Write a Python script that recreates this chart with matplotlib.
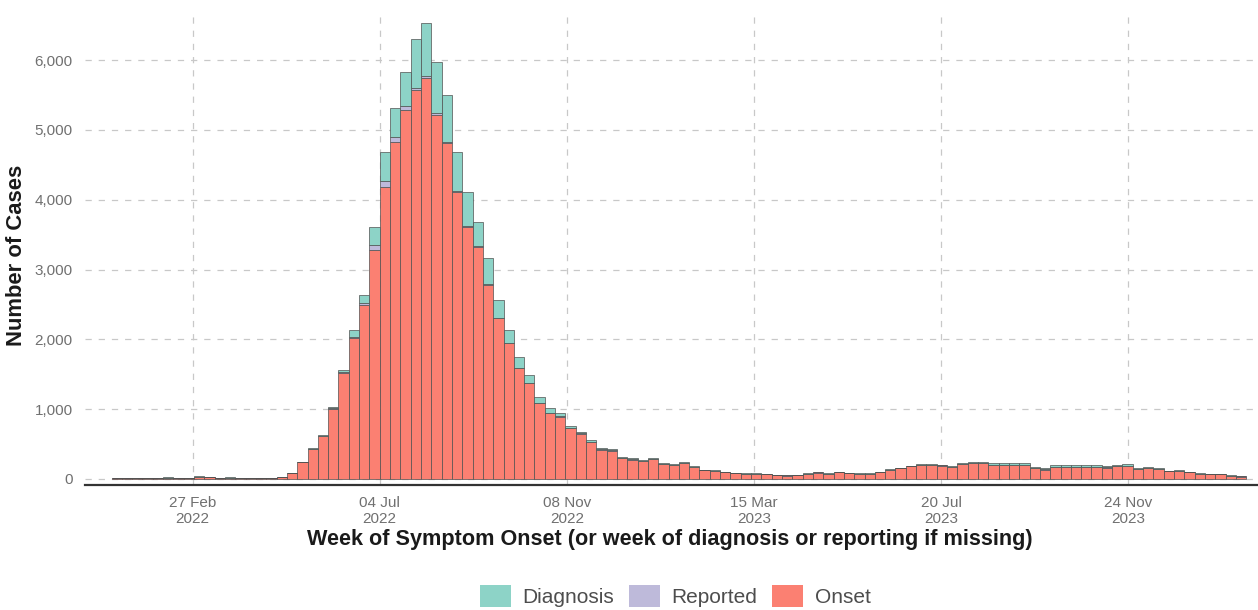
import numpy as np
import pandas as pd
import matplotlib
matplotlib.use("Agg")
import matplotlib.pyplot as plt
from matplotlib.patches import Patch

plt.rcParams['font.family'] = ['Liberation Sans', 'DejaVu Sans']
plt.rcParams['lines.scale_dashes'] = False

# weekly counts, weeks starting Monday 03 Jan 2022
first_week = "2022-01-03"

onset = [8, 12, 10, 15, 12, 18, 10, 14, 30, 22, 12, 18, 15, 10, 12, 15, 25,
         85, 240, 430, 610, 1000, 1520, 2015, 2493, 3281, 4188, 4833, 5287,
         5573, 5740, 5215, 4809, 4117, 3615, 3329, 2779, 2302, 1944, 1585,
         1370, 1084, 941, 893, 730,
         648, 532, 420, 407, 300, 276, 255, 281, 215, 200, 228, 167,
         127, 117, 98, 85, 76, 74, 72, 55, 50, 53, 74, 93, 76, 95, 84, 74, 76, 98,
         132, 151, 180, 199, 203, 193, 169, 211, 229, 233,
         201, 199, 201, 198, 157, 136, 176, 174, 173, 174, 176, 164, 180, 188,
         139, 153, 141, 110, 119, 97, 74, 65, 65, 47, 35]

reported = [0] * 17 + \
    [2, 3, 5, 8, 10, 15, 20, 30, 70, 80, 70, 50, 35, 30, 25, 20,
     15, 12, 10, 10, 8, 8, 6, 6, 5, 5, 5, 5] + \
    [5] * 12 + [2] * 53

diagnosis = [2, 3, 2, 4, 3, 4, 2, 3, 6, 4, 3, 4, 3, 2, 3, 3, 5,
             3, 7, 10, 12, 26, 26, 100, 113, 264, 422, 412, 498, 691, 758,
             739, 673, 558, 490, 348, 372, 254, 183, 161, 114, 90, 74, 43, 25,
             25, 22, 20, 18, 15, 15, 12, 14, 10, 10, 12, 8,
             6, 6, 5, 5, 4, 4, 4, 3, 3, 3, 4, 5, 4, 5, 4, 4, 4, 5,
             6, 7, 8, 9, 10, 10, 9, 12, 14, 15,
             22, 24, 22, 25, 18, 15, 22, 24, 25, 24, 22, 20, 18, 20,
             12, 12, 10, 8, 8, 6, 5, 4, 4, 3, 3]

tick_dates = ["2022-02-27", "2022-07-04", "2022-11-08",
              "2023-03-15", "2023-07-20", "2023-11-24"]
tick_labels = ["27 Feb\n2022", "04 Jul\n2022", "08 Nov\n2022",
               "15 Mar\n2023", "20 Jul\n2023", "24 Nov\n2023"]

colors = {"Diagnosis": "#8DD3C7", "Reported": "#BEBADA", "Onset": "#FB8072"}

weeks = pd.date_range(first_week, periods=len(onset), freq="7D")
onset = np.array(onset)
reported = np.array(reported)
diagnosis = np.array(diagnosis)

fig = plt.figure(figsize=(12.58, 6.10), dpi=100)
ax = fig.add_axes([85 / 1258, 1 - 485 / 610, 1 - 85 / 1258, (485 - 12) / 610])

edge = dict(edgecolor="#505050", linewidth=0.5, width=7, align="edge", zorder=3)
ax.bar(weeks, onset, color=colors["Onset"], **edge)
ax.bar(weeks, reported, bottom=onset, color=colors["Reported"], **edge)
ax.bar(weeks, diagnosis, bottom=onset + reported, color=colors["Diagnosis"], **edge)

ax.set_xlim(pd.Timestamp("2021-12-16"), pd.Timestamp("2024-02-20"))
ax.set_ylim(-86, 6690)

ax.set_xticks(pd.to_datetime(tick_dates))
ax.set_xticklabels(tick_labels, linespacing=1.15)
ax.set_yticks(range(0, 7000, 1000))
ax.set_yticklabels([f"{v:,}" for v in range(0, 7000, 1000)])

ax.tick_params(axis="both", length=0, labelsize=11, labelcolor="#707070")
ax.tick_params(axis="x", pad=8)
ax.tick_params(axis="y", pad=9)

ax.grid(True, color="#c8c8c8", linewidth=0.9, linestyle=(0, (4.5, 5)), zorder=0)
for s in ["top", "right", "left"]:
    ax.spines[s].set_visible(False)
ax.spines["bottom"].set_color("#333333")
ax.spines["bottom"].set_linewidth(1.6)
ax.spines["bottom"].set_zorder(4)

fig.text(17 / 1258, 1 - 255 / 610, "Number of Cases", rotation=90,
         ha="center", va="center", fontsize=15.8, fontweight="bold", color="#1a1a1a")
fig.text(670 / 1258, 1 - 540 / 610,
         "Week of Symptom Onset (or week of diagnosis or reporting if missing)",
         ha="center", va="center", fontsize=15.6, fontweight="bold", color="#1a1a1a")

handles = [Patch(facecolor=colors[k], edgecolor="none") for k in ["Diagnosis", "Reported", "Onset"]]
leg = fig.legend(handles, ["Diagnosis", "Reported", "Onset"], loc="center",
                 bbox_to_anchor=(675 / 1258, 1 - 596 / 610), ncol=3, frameon=False,
                 fontsize=15, handlelength=1.5, handleheight=1.3,
                 handletextpad=0.55, columnspacing=0.7, borderpad=0)
for t in leg.get_texts():
    t.set_color("#4d4d4d")

fig.savefig("out.png", dpi=100)
